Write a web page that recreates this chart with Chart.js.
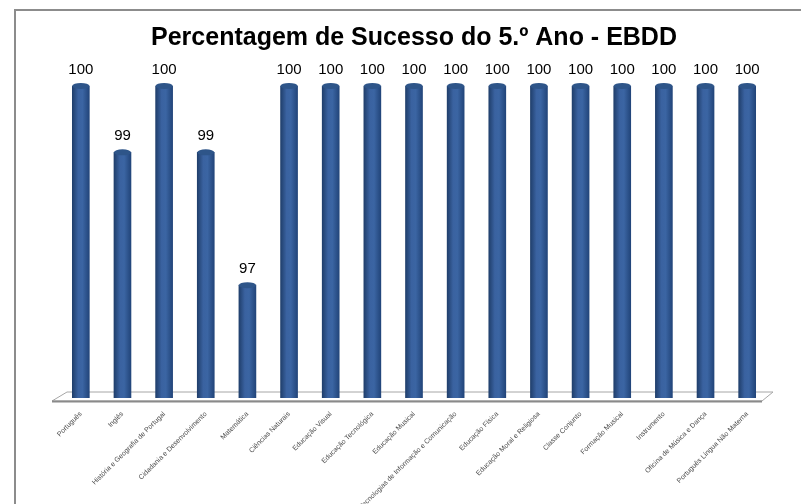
<!doctype html>
<html>
<head>
<script src="https://cdn.jsdelivr.net/npm/chart.js@4.4.0/dist/chart.umd.min.js"></script>
<style>
  body { margin: 0; background: #fff; font-family: "Liberation Sans", Arial, sans-serif; }
  #wrap { width: 801px; height: 504px; position: relative; }
</style>
</head>
<body>
<div id="wrap"><canvas id="chart"></canvas></div>
<script>
const subjects = [
  'Português', 'Inglês', 'História e Geografia de Portugal', 'Cidadania e Desenvolvimento',
  'Matemática', 'Ciências Naturais', 'Educação Visual', 'Educação Tecnológica',
  'Educação Musical', 'Tecnologias de Informação e Comunicação', 'Educação Física',
  'Educação Moral e Religiosa', 'Classe Conjunto', 'Formação Musical', 'Instrumento',
  'Oficina de Música e Dança', 'Português Língua Não Materna'
];
const success = [100, 99, 100, 99, 97, 100, 100, 100, 100, 100, 100, 100, 100, 100, 100, 100, 100];
const chartTitle = 'Percentagem de Sucesso do 5.º Ano - EBDD';

// grey frame round the picture (top and left only, like the reference)
const framePlugin = {
  id: 'frame',
  beforeDraw(chart) {
    const c = chart.ctx;
    c.save();
    c.strokeStyle = '#8c8c8c';
    c.lineWidth = 2;
    c.beginPath();
    c.moveTo(15, 504);
    c.lineTo(15, 10);
    c.lineTo(801, 10);
    c.stroke();
    c.restore();
  }
};

// 3d floor under the bars
const floorPlugin = {
  id: 'floor',
  beforeDatasetsDraw(chart) {
    const c = chart.ctx, a = chart.chartArea;
    const y = chart.scales.y.getPixelForValue(chart.scales.y.min);
    c.save();
    c.fillStyle = '#ffffff';
    c.strokeStyle = '#a6a6a6';
    c.lineWidth = 1;
    c.beginPath();
    c.moveTo(a.left + 7, y - 6);
    c.lineTo(a.right + 5, y - 6);
    c.lineTo(a.right - 6, y + 3);
    c.lineTo(a.left - 8, y + 3);
    c.closePath();
    c.fill();
    c.stroke();
    c.strokeStyle = '#8a8a8a';
    c.lineWidth = 2;
    c.beginPath();
    c.moveTo(a.left - 8, y + 3.5);
    c.lineTo(a.right - 6, y + 3.5);
    c.stroke();
    c.restore();
  }
};

function barGradient(c, x, w) {
  const g = c.createLinearGradient(x - w / 2, 0, x + w / 2, 0);
  g.addColorStop(0, '#203f6c');
  g.addColorStop(0.35, '#3a62a0');
  g.addColorStop(0.6, '#3b65a3');
  g.addColorStop(1, '#22457a');
  return g;
}

// cylinder caps + value labels
const cylPlugin = {
  id: 'cyl',
  afterDatasetsDraw(chart) {
    const c = chart.ctx;
    const meta = chart.getDatasetMeta(0);
    c.save();
    meta.data.forEach((el, i) => {
      const w = el.width, rx = w / 2, ry = 3;
      // bottom
      c.fillStyle = barGradient(c, el.x, w);
      c.beginPath();
      c.ellipse(el.x, el.base, rx, ry, 0, 0, Math.PI * 2);
      c.fill();
      // top
      c.fillStyle = '#2e5589';
      c.beginPath();
      c.ellipse(el.x, el.y, rx, ry, 0, 0, Math.PI * 2);
      c.fill();
      c.fillStyle = '#000';
      c.font = '15px "Liberation Sans", Arial, sans-serif';
      c.textAlign = 'center';
      c.textBaseline = 'alphabetic';
      c.fillText(String(success[i]), el.x, el.y - 12);
    });
    c.restore();
  }
};

const ctx = document.getElementById('chart').getContext('2d');
const chart = new Chart(ctx, {
  type: 'bar',
  data: {
    labels: subjects,
    datasets: [{
      data: success,
      barThickness: 17,
      borderWidth: 0,
      backgroundColor: (context) => {
        const ch = context.chart;
        if (!ch.chartArea) return '#3a62a0';
        const x = ch.scales.x.getPixelForValue(context.dataIndex);
        return barGradient(ch.ctx, x, 17);
      }
    }]
  },
  options: {
    responsive: true,
    maintainAspectRatio: false,
    animation: false,
    layout: { padding: { top: 12, left: 60, right: 33, bottom: 0 } },
    plugins: {
      legend: { display: false },
      tooltip: { enabled: false },
      title: {
        display: true,
        text: chartTitle,
        color: '#000',
        font: { family: '"Liberation Sans", Arial, sans-serif', size: 25, weight: 'bold' },
        padding: { top: 11, bottom: 19.7 }
      }
    },
    scales: {
      y: { display: false, min: 95.3, max: 100.2 },
      x: {
        grid: { display: false },
        border: { display: false },
        ticks: {
          autoSkip: false,
          maxRotation: 45,
          minRotation: 45,
          padding: 4,
          color: '#4a4a4a',
          font: { family: '"Liberation Sans", Arial, sans-serif', size: 7 }
        },
        afterFit(scale) { scale.height = 106; }
      }
    }
  },
  plugins: [framePlugin, floorPlugin, cylPlugin]
});
</script>
</body>
</html>
